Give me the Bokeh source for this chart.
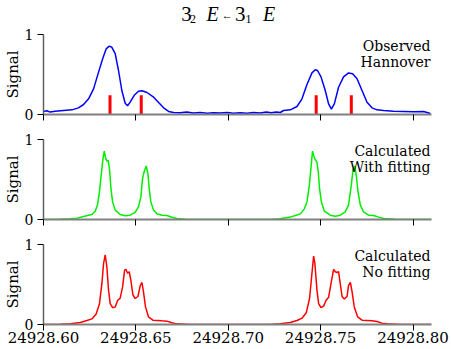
from bokeh.plotting import figure
from bokeh.layouts import column
from bokeh.models import Label, Range1d, FixedTicker, PrintfTickFormatter
from bokeh.embed import file_html
from bokeh.resources import INLINE

# ---------------- data ----------------
obs_x = [24928.6000, 24928.6018, 24928.6036, 24928.6063, 24928.6108, 24928.6154,
         24928.6189, 24928.6217, 24928.6244, 24928.6271, 24928.6298, 24928.6322,
         24928.6339, 24928.6356, 24928.6370, 24928.6388, 24928.6406, 24928.6424,
         24928.6442, 24928.6455, 24928.6469, 24928.6491, 24928.6514, 24928.6533,
         24928.6560, 24928.6596, 24928.6623, 24928.6650, 24928.6677, 24928.6704,
         24928.6740, 24928.6776, 24928.6810, 24928.6848, 24928.6886, 24928.6919,
         24928.6957, 24928.6995, 24928.7027, 24928.7065, 24928.7103, 24928.7135,
         24928.7173, 24928.7206, 24928.7233, 24928.7260, 24928.7282, 24928.7299,
         24928.7336, 24928.7372, 24928.7399, 24928.7426, 24928.7453, 24928.7471,
         24928.7483, 24928.7502, 24928.7525, 24928.7543, 24928.7558, 24928.7574,
         24928.7597, 24928.7624, 24928.7651, 24928.7673, 24928.7697, 24928.7724,
         24928.7751, 24928.7778, 24928.7805, 24928.7841, 24928.7895, 24928.7949,
         24928.8003, 24928.8057, 24928.8076, 24928.8094]
obs_y = [0.038, 0.046, 0.030, 0.042, 0.050, 0.058,
         0.083, 0.125, 0.196, 0.320, 0.530, 0.710,
         0.820, 0.854, 0.840, 0.760, 0.550, 0.300,
         0.140, 0.110, 0.154, 0.240, 0.290, 0.296,
         0.275, 0.217, 0.150, 0.083, 0.038, 0.025,
         0.021, 0.030, 0.020, 0.024, 0.016, 0.022,
         0.018, 0.025, 0.017, 0.021, 0.015, 0.024,
         0.020, 0.030, 0.022, 0.032, 0.025, 0.050,
         0.058, 0.100, 0.196, 0.375, 0.520, 0.560,
         0.550, 0.470, 0.300, 0.133, 0.067, 0.133,
         0.340, 0.470, 0.520, 0.510, 0.446, 0.300,
         0.154, 0.083, 0.058, 0.050, 0.042, 0.038,
         0.033, 0.038, 0.025, 0.0125]

stick_x = [24928.6360, 24928.6529, 24928.7476, 24928.7666]
stick_base = [0.0, 0.0, 0.0, 0.0]
stick_h = [0.24, 0.24, 0.24, 0.24]

fit_x = [24928.6000, 24928.6090, 24928.6145, 24928.6181, 24928.6217, 24928.6244,
         24928.6262, 24928.6280, 24928.6292, 24928.6303, 24928.6312, 24928.6322,
         24928.6329, 24928.6336, 24928.6343, 24928.6350, 24928.6357, 24928.6365,
         24928.6374, 24928.6388, 24928.6415, 24928.6442, 24928.6469, 24928.6496,
         24928.6514, 24928.6527, 24928.6536, 24928.6545, 24928.6556, 24928.6565,
         24928.6572, 24928.6581, 24928.6596, 24928.6614, 24928.6641, 24928.6668,
         24928.6695, 24928.6722, 24928.6767, 24928.6848,
         24928.7227, 24928.7281, 24928.7336, 24928.7363, 24928.7390, 24928.7411,
         24928.7426, 24928.7439, 24928.7449, 24928.7456, 24928.7466, 24928.7473,
         24928.7480, 24928.7487, 24928.7494, 24928.7504, 24928.7520, 24928.7552,
         24928.7579, 24928.7606, 24928.7633, 24928.7651, 24928.7666, 24928.7675,
         24928.7684, 24928.7693, 24928.7702, 24928.7715, 24928.7732, 24928.7760,
         24928.7787, 24928.7814, 24928.7841, 24928.7904, 24928.8099]
fit_y = [0.0, 0.002, 0.008, 0.017, 0.038, 0.054,
         0.062, 0.104, 0.180, 0.346, 0.550, 0.760,
         0.854, 0.770, 0.730, 0.740, 0.640, 0.390,
         0.220, 0.117, 0.062, 0.046, 0.054, 0.088,
         0.158, 0.283, 0.510, 0.600, 0.670, 0.575,
         0.390, 0.220, 0.117, 0.071, 0.054, 0.050,
         0.029, 0.0125, 0.003, 0.0,
         0.0, 0.008, 0.030, 0.050, 0.070, 0.130,
         0.220, 0.430, 0.680, 0.854, 0.770, 0.740,
         0.720, 0.600, 0.390, 0.220, 0.104, 0.054,
         0.042, 0.054, 0.096, 0.180, 0.430, 0.620,
         0.670, 0.550, 0.350, 0.180, 0.096, 0.054,
         0.050, 0.030, 0.0125, 0.002, 0.0]

nofit_x = [24928.6000, 24928.6090, 24928.6145, 24928.6199, 24928.6235, 24928.6262,
           24928.6285, 24928.6303, 24928.6316, 24928.6325, 24928.6334, 24928.6343,
           24928.6352, 24928.6361, 24928.6374, 24928.6388, 24928.6401, 24928.6415,
           24928.6428, 24928.6439, 24928.6446, 24928.6455, 24928.6464, 24928.6473,
           24928.6484, 24928.6496, 24928.6511, 24928.6524, 24928.6533, 24928.6541,
           24928.6552, 24928.6568, 24928.6592, 24928.6617, 24928.6641, 24928.6668,
           24928.6695, 24928.6722, 24928.6794,
           24928.7227, 24928.7281, 24928.7336, 24928.7372, 24928.7399, 24928.7422,
           24928.7440, 24928.7453, 24928.7462, 24928.7469, 24928.7480, 24928.7489,
           24928.7502, 24928.7516, 24928.7529, 24928.7543, 24928.7556, 24928.7570,
           24928.7579, 24928.7589, 24928.7597, 24928.7606, 24928.7616, 24928.7628,
           24928.7643, 24928.7651, 24928.7661, 24928.7670, 24928.7682, 24928.7700,
           24928.7724, 24928.7751, 24928.7778, 24928.7805, 24928.7832, 24928.7859,
           24928.7931, 24928.8099]
nofit_y = [0.0, 0.002, 0.008, 0.025, 0.050, 0.070,
           0.130, 0.260, 0.510, 0.760, 0.870, 0.720,
           0.430, 0.260, 0.210, 0.220, 0.300, 0.330,
           0.470, 0.680, 0.690, 0.640, 0.660, 0.550,
           0.370, 0.325, 0.350, 0.490, 0.525, 0.410,
           0.220, 0.096, 0.054, 0.050, 0.046, 0.042,
           0.021, 0.008, 0.0,
           0.0, 0.008, 0.025, 0.050, 0.079, 0.146,
           0.325, 0.640, 0.854, 0.760, 0.430, 0.260,
           0.210, 0.230, 0.300, 0.340, 0.510, 0.690,
           0.660, 0.650, 0.660, 0.510, 0.350, 0.320,
           0.350, 0.490, 0.525, 0.410, 0.220, 0.096,
           0.054, 0.050, 0.046, 0.038, 0.017, 0.008,
           0.0, 0.0]

x_ticks = [24928.60, 24928.65, 24928.70, 24928.75, 24928.80]
y_ticks = [0, 1]
panel_lines = [("Observed", "Hannover"),
               ("Calculated", "With fitting"),
               ("Calculated", "No fitting")]

SERIF = "DejaVu Serif"
TSERIF = "Liberation Serif"


def make_panel(top, bottom, show_x_labels, lines):
    p = figure(frame_width=388, frame_height=80,
               min_border_left=43, min_border_right=20,
               min_border_top=top, min_border_bottom=bottom,
               x_range=Range1d(24928.60, 24928.81), y_range=Range1d(0, 1),
               output_backend="svg", toolbar_location=None, title=None)
    p.outline_line_color = None
    p.xgrid.visible = False
    p.ygrid.visible = False
    p.background_fill_color = "white"
    p.border_fill_color = "white"

    xa = p.xaxis[0]
    xa.ticker = FixedTicker(ticks=x_ticks)
    xa.formatter = PrintfTickFormatter(format="%.2f")
    xa.minor_tick_line_color = None
    xa.major_tick_in = 0
    xa.major_tick_out = 6
    xa.major_tick_line_color = "black"
    xa.axis_line_color = "#808080"
    xa.axis_line_width = 2
    if show_x_labels:
        xa.major_label_text_font = SERIF
        xa.major_label_text_font_size = "15px"
        xa.major_label_text_color = "black"
        xa.major_label_standoff = 1
    else:
        xa.major_label_text_font_size = "1px"
        xa.major_label_text_color = None
        xa.major_label_standoff = 0

    ya = p.yaxis[0]
    ya.ticker = FixedTicker(ticks=y_ticks)
    ya.minor_tick_line_color = None
    ya.major_tick_in = 0
    ya.major_tick_out = 6
    ya.major_tick_line_color = "black"
    ya.axis_line_color = "#606060"
    ya.axis_line_width = 1.5
    ya.major_label_text_font = SERIF
    ya.major_label_text_font_size = "14px"
    ya.major_label_text_color = "black"
    ya.major_label_standoff = 4
    ya.axis_label = "Signal"
    ya.axis_label_text_font = SERIF
    ya.axis_label_text_font_size = "15px"
    ya.axis_label_text_font_style = "normal"
    ya.axis_label_text_color = "black"
    ya.axis_label_standoff = 0

    for txt, yy in zip(lines, [69, 53]):
        p.add_layout(Label(x=387, y=yy, x_units="screen", y_units="screen",
                           text=txt, text_font=SERIF, text_font_size="14px",
                           text_align="right", text_baseline="middle",
                           text_color="black"))
    return p


# ---- title strip: 3_2 E <- 3_1 E (same frame geometry as the panels) ----
p0 = figure(frame_width=388, frame_height=25,
            min_border_left=43, min_border_right=20,
            min_border_top=0, min_border_bottom=0,
            x_range=Range1d(0, 1), y_range=Range1d(0, 1),
            x_axis_location=None, y_axis_location=None,
            output_backend="svg", toolbar_location=None, title=None)
p0.outline_line_color = None
p0.xgrid.visible = False
p0.ygrid.visible = False
# (text, x from frame left, y of text centre from frame bottom, size, style)
title_parts = [("3", 137.7, 11.8, "21px", "normal"),
               ("2", 146.5, 6.9, "12px", "normal"),
               ("E", 163.0, 11.5, "20px", "italic"),
               ("\u2190", 178.2, 11.0, "11px", "normal"),
               ("3", 191.5, 11.8, "21px", "normal"),
               ("1", 202.0, 6.9, "12px", "normal"),
               ("E", 219.5, 11.5, "20px", "italic")]
for t, xx, yy, fs, st in title_parts:
    p0.add_layout(Label(x=xx, y=yy, x_units="screen", y_units="screen", text=t,
                        text_font=TSERIF, text_font_size=fs, text_font_style=st,
                        text_align="left", text_baseline="middle", text_color="black"))

p1 = make_panel(9, 12, False, panel_lines[0])
p1.line(obs_x, obs_y, line_color="#0000ff", line_width=1.5)
p1.segment(x0=stick_x, y0=stick_base, x1=stick_x, y1=stick_h,
           line_color="#ff0000", line_width=3)

p2 = make_panel(13, 12, False, panel_lines[1])
p2.line(fit_x, fit_y, line_color="#00ee00", line_width=1.5)

p3 = make_panel(13, 25, True, panel_lines[2])
p3.line(nofit_x, nofit_y, line_color="#ff0000", line_width=1.5)

layout = column(p0, p1, p2, p3, spacing=0)
open("out.html", "w").write(file_html(layout, INLINE))
